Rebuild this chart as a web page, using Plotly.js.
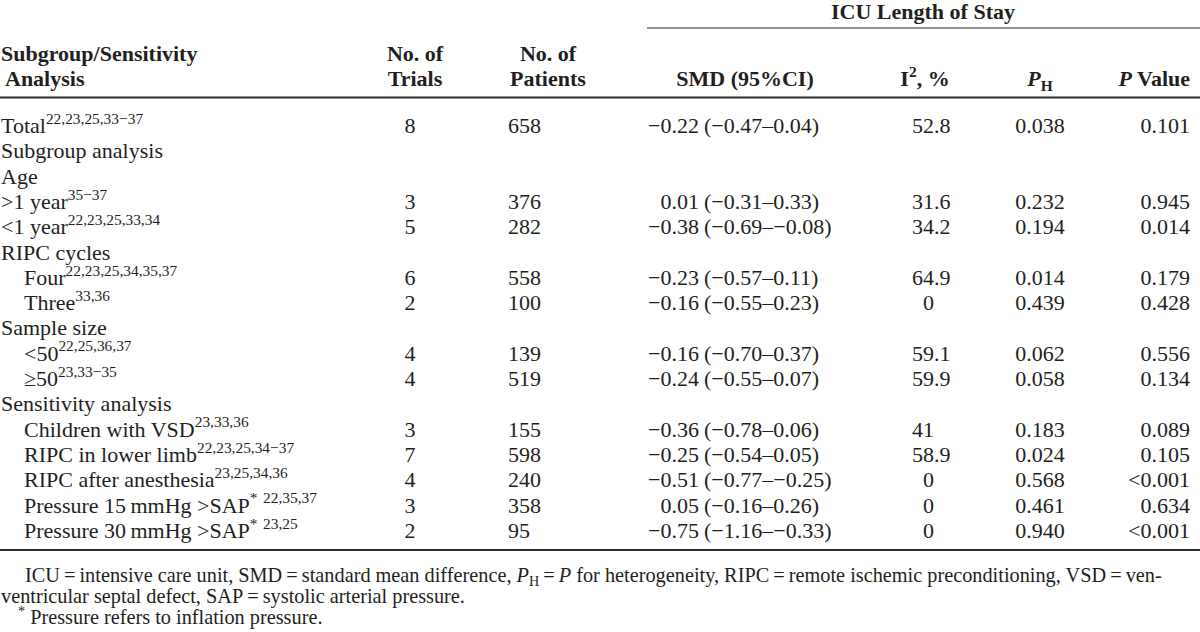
<!DOCTYPE html>
<html>
<head>
<meta charset="utf-8">
<script src="https://cdn.plot.ly/plotly-3.0.1.min.js"></script>
<style>
  html, body { margin: 0; padding: 0; background: #fff; }
  #graph { width: 1200px; height: 632px; }
</style>
</head>
<body>
<div id="graph"></div>
<script>
//*****Table values
var labels = ['Total', 'Subgroup analysis', 'Age', '&gt;1 year', '&lt;1 year', 'RIPC cycles',
  'Four', 'Three', 'Sample size', '&lt;50', '≥50', 'Sensitivity analysis',
  'Children with VSD', 'RIPC in lower limb', 'RIPC after anesthesia',
  'Pressure 15\u2009mmHg &gt;SAP<sup>*</sup> ', 'Pressure 30\u2009mmHg &gt;SAP<sup>*</sup> '];
var refs = ['22,23,25,33−37', '', '', '35−37', '22,23,25,33,34', '',
  '22,23,25,34,35,37', '33,36', '', '22,25,36,37', '23,33−35', '',
  '23,33,36', '22,23,25,34−37', '23,25,34,36', '22,35,37', '23,25'];
var trials   = [8, null, null, 3, 5, null, 6, 2, null, 4, 4, null, 3, 7, 4, 3, 2];
var patients = [658, null, null, 376, 282, null, 558, 100, null, 139, 519, null, 155, 598, 240, 358, 95];
var smd    = [-0.22, null, null, 0.01, -0.38, null, -0.23, -0.16, null, -0.16, -0.24, null, -0.36, -0.25, -0.51, 0.05, -0.75];
var ciLow  = [-0.47, null, null, -0.31, -0.69, null, -0.57, -0.55, null, -0.70, -0.55, null, -0.78, -0.54, -0.77, -0.16, -1.16];
var ciHigh = [0.04, null, null, 0.33, -0.08, null, 0.11, 0.23, null, 0.37, 0.07, null, 0.06, 0.05, -0.25, 0.26, -0.33];
var i2     = [52.8, null, null, 31.6, 34.2, null, 64.9, 0, null, 59.1, 59.9, null, 41, 58.9, 0, 0, 0];
var pHet   = [0.038, null, null, 0.232, 0.194, null, 0.014, 0.439, null, 0.062, 0.058, null, 0.183, 0.024, 0.568, 0.461, 0.940];
var pValue = ['0.101', null, null, '0.945', '0.014', null, '0.179', '0.428', null, '0.556', '0.134', null,
  '0.089', '0.105', '&lt;0.001', '0.634', '&lt;0.001'];
//***** End of table values

//*****Layout of the table (pixels)
var indent = [0, 0, 0, 0, 0, 0, 1, 1, 0, 1, 1, 0, 1, 1, 1, 1, 1];
var row0 = 127.5, pitch = 25.3;
var fontFam = '"Liberation Serif", "Times New Roman", serif';
var ink = '#231f20';
var bodyFont = {family: fontFam, size: 22, color: ink};

function rowY(i) { return row0 + i * pitch; }
function num(v) { return (v < 0 ? '−' : '') + Math.abs(v).toFixed(2); }

// one scatter "text" trace per column, skipping empty cells
function column(values, xpos, fmt, pos, font) {
  var x = [], y = [], t = [];
  values.forEach(function(v, i) {
    if (v === null || v === undefined) return;
    var s = fmt(v, i);
    if (!s) return;
    x.push(typeof xpos === 'function' ? xpos(i) : xpos);
    y.push(rowY(i));
    t.push(s);
  });
  return {
    x: x, y: y, text: t, type: 'scatter', mode: 'text',
    textposition: pos, textfont: font || bodyFont, hoverinfo: 'skip', cliponaxis: false
  };
}

var data = [
  column(labels, function(i) { return indent[i] ? 24 : 1; },
    function(v, i) { return v + (refs[i] ? '<sup>' + refs[i] + '</sup>' : ''); }, 'middle right'),
  column(trials, 410, String, 'middle center'),
  column(patients, 508, String, 'middle right'),
  column(smd, 699, num, 'middle left'),
  column(smd, 704, function(v, i) { return '(' + num(ciLow[i]) + '–' + num(ciHigh[i]) + ')'; }, 'middle right'),
  // I2 is aligned on the decimal point
  column(i2, 934, function(v) { return String(v).split('.')[0]; }, 'middle left'),
  column(i2, 934, function(v) { var p = String(v).split('.'); return p[1] ? '.' + p[1] : ''; }, 'middle right'),
  column(pHet, 1040, function(v) { return v.toFixed(3); }, 'middle center'),
  column(pValue, 1190, String, 'middle left')
];

// header cells
var headFont = {family: fontFam, size: 22, color: ink};
data.push({
  type: 'scatter', mode: 'text', hoverinfo: 'skip', cliponaxis: false, textfont: headFont,
  x: [923, 1, 5, 415, 415, 548, 548, 745, 925, 1040, 1190],
  y: [13, 55.5, 80.5, 55.5, 80.5, 55.5, 80.5, 80.5, 80.5, 80.5, 80.5],
  text: ['<b>ICU Length of Stay</b>', '<b>Subgroup/Sensitivity</b>', '<b>Analysis</b>',
    '<b>No. of</b>', '<b>Trials</b>', '<b>No. of</b>', '<b>Patients</b>',
    '<b>SMD (95%CI)</b>', '<b>I<sup>2</sup>, %</b>', '<b><i>P</i><sub>H</sub></b>', '<b><i>P</i> Value</b>'],
  textposition: ['middle center', 'middle right', 'middle right', 'middle center', 'middle center',
    'middle center', 'middle center', 'middle center', 'middle center', 'middle center', 'middle left']
});

// footnotes
var noteFont = {family: fontFam, size: 20.3, color: ink};
data.push({
  type: 'scatter', mode: 'text', hoverinfo: 'skip', cliponaxis: false, textfont: noteFont,
  x: [25, 1, 18],
  y: [577, 598, 619],
  text: ['ICU\u2009=\u2009intensive care unit, SMD\u2009=\u2009standard mean difference, ' +
      '<i>P</i><sub>H</sub>\u2009=\u2009<i>P</i> for heterogeneity, ' +
      'RIPC\u2009=\u2009remote ischemic preconditioning, VSD\u2009=\u2009ven-',
    'ventricular septal defect, SAP\u2009=\u2009systolic arterial pressure.',
    '<sup>*</sup> Pressure refers to inflation pressure.'],
  textposition: 'middle right'
});

var rule = function(x0, x1, y, w) {
  return {type: 'line', xref: 'x', yref: 'y', x0: x0, x1: x1, y0: y, y1: y,
    line: {color: '#2b2b2b', width: w}};
};

var layout = {
  width: 1200,
  height: 632,
  margin: {l: 0, r: 0, t: 0, b: 0},
  paper_bgcolor: '#ffffff',
  plot_bgcolor: '#ffffff',
  showlegend: false,
  xaxis: {range: [0, 1200], visible: false, fixedrange: true},
  yaxis: {range: [632, 0], visible: false, fixedrange: true},
  shapes: [
    rule(647, 1200, 28, 1.2),
    rule(0, 1200, 97.5, 2),
    rule(0, 1200, 550, 2)
  ]
};

Plotly.newPlot('graph', data, layout, {staticPlot: true});
</script>
</body>
</html>
